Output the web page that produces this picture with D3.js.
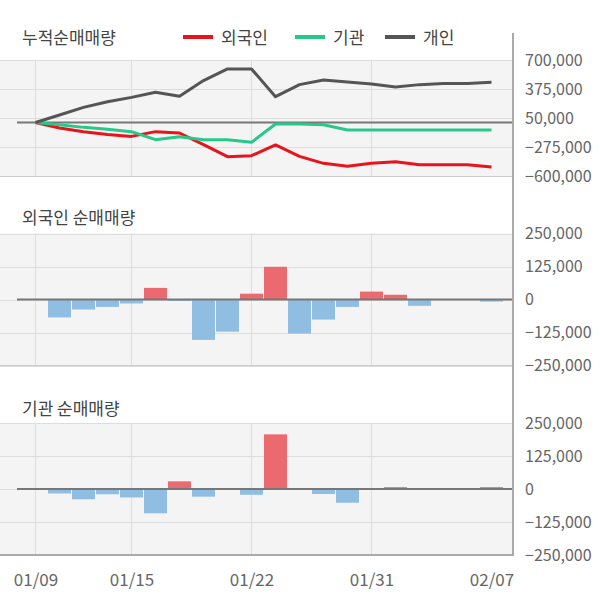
<!DOCTYPE html>
<html><head><meta charset="utf-8">
<script src="https://cdn.jsdelivr.net/npm/d3@7"></script>
<style>
html,body{margin:0;padding:0;background:#fff;}
svg{display:block;font-family:"Noto Sans CJK KR","Noto Sans",sans-serif;}
</style></head>
<body><svg id="c" width="600" height="604"></svg>
<script>
const dates = ["01/09","01/10","01/13","01/14","01/15","01/16","01/17","01/20","01/21","01/22","01/23","01/28","01/29","01/30","01/31","02/03","02/04","02/05","02/06","02/07"];
const tickDates = ["01/09","01/15","01/22","01/31","02/07"];
const gridDates = ["01/09","01/15","01/22","01/31"];
const seriesNames = ["외국인","기관","개인"];
const seriesColors = ["#e8141c","#26c98a","#555555"];
const foreignCum = [0,-62000,-104000,-135000,-156000,-103000,-118000,-249000,-383000,-372000,-252000,-380000,-458000,-492000,-458000,-440000,-473000,-473000,-473000,-499000];
const instCum = [0,-25000,-55000,-77000,-103000,-193000,-159000,-193000,-193000,-223000,-17000,-17000,-25000,-85000,-85000,-85000,-85000,-85000,-85000,-85000];
const indivCum = [0,84000,169000,233000,281000,338000,293000,469000,600000,600000,289000,424000,476000,454000,431000,398000,424000,438000,438000,450000];
const foreignNet = [0,-68000,-38000,-28000,-15000,44000,-5000,-153000,-122000,22000,124000,-129000,-76000,-28000,30000,18000,-24000,0,0,-8000];
const instNet = [0,-17000,-39000,-20000,-32000,-92000,29000,-29000,0,-22000,207000,0,-19000,-52000,0,7000,0,0,0,7000];
const cumTicks = [700000,375000,50000,-275000,-600000];
const netTicks = [250000,125000,0,-125000,-250000];
const titles = ["누적순매매량","외국인 순매매량","기관 순매매량"];

const svg = d3.select("#c");
const plotRight = 513;
const x = d3.scalePoint().domain(dates).range([35.5, 491.5]);
const barW = 23;
const fmt = d3.format(",");

function panel(y0, y1, domain, ticks) {
  const y = d3.scaleLinear().domain(domain).range([y1, y0]);
  const g = svg.append("g");
  g.append("rect").attr("x",0).attr("y",y0).attr("width",plotRight).attr("height",y1-y0).attr("fill","#f4f4f4");
  g.selectAll("line.h").data(ticks).join("line").attr("class","h")
    .attr("x1",0).attr("x2",plotRight).attr("y1",d=>Math.round(y(d))+0.5).attr("y2",d=>Math.round(y(d))+0.5)
    .attr("stroke","#dddddd").attr("stroke-width",1);
  g.selectAll("line.v").data(gridDates).join("line").attr("class","v")
    .attr("x1",d=>x(d)).attr("x2",d=>x(d)).attr("y1",y0).attr("y2",y1)
    .attr("stroke","#dddddd").attr("stroke-width",1);
  const ax = d3.axisRight(y).tickValues(ticks).tickFormat(fmt).tickSize(0).tickPadding(12);
  const a = svg.append("g").attr("transform",`translate(${plotRight},0)`).call(ax);
  a.select(".domain").remove();
  a.selectAll("text").attr("fill","#666").attr("font-size","16px").attr("font-family","'Noto Sans CJK KR',sans-serif");
  return {y, g};
}

// top panel
const p1 = panel(60, 176, [-600000, 700000], cumTicks);
p1.g.append("line").attr("x1",17).attr("x2",plotRight).attr("y1",p1.y(0)).attr("y2",p1.y(0)).attr("stroke","#777").attr("stroke-width",2);
const cumSeries = [foreignCum, instCum, indivCum];
const line = d3.line().x((d,i)=>x(dates[i])).y(d=>p1.y(d));
cumSeries.forEach((s,k)=>{
  p1.g.append("path").datum(s).attr("d",line).attr("fill","none")
    .attr("stroke",seriesColors[k]).attr("stroke-width",3).attr("stroke-linejoin","round");
});

// bars
function barPanel(y0, y1, data) {
  const p = panel(y0, y1, [-250000, 250000], netTicks);
  p.g.selectAll("rect.b").data(data).join("rect").attr("class","b")
    .attr("x",(d,i)=>x(dates[i]) - barW/2).attr("width",barW)
    .attr("y",d=>p.y(Math.max(0,d))).attr("height",d=>Math.abs(p.y(d)-p.y(0)))
    .attr("fill",d=>d>=0?"#ea6a6f":"#8fbee2");
  p.g.append("line").attr("x1",17).attr("x2",plotRight).attr("y1",p.y(0)).attr("y2",p.y(0)).attr("stroke","#777").attr("stroke-width",2);
  return p;
}
barPanel(233.5, 365.5, foreignNet);
barPanel(423, 555, instNet);

// panel borders
svg.append("line").attr("x1",0).attr("x2",plotRight).attr("y1",176.5).attr("y2",176.5).attr("stroke","#cccccc");
svg.append("line").attr("x1",0).attr("x2",plotRight).attr("y1",365.5).attr("y2",365.5).attr("stroke","#cccccc");
svg.append("line").attr("x1",0).attr("x2",plotRight+1).attr("y1",555).attr("y2",555).attr("stroke","#aaaaaa").attr("stroke-width",2);
svg.append("line").attr("x1",plotRight).attr("x2",plotRight).attr("y1",33).attr("y2",556).attr("stroke","#aaaaaa").attr("stroke-width",2);

// x axis labels
const xa = d3.axisBottom(x).tickValues(tickDates).tickSize(0).tickPadding(18);
const xg = svg.append("g").attr("transform","translate(0,556)").call(xa);
xg.select(".domain").remove();
xg.selectAll("text").attr("fill","#666").attr("font-size","17px").attr("font-family","'Noto Sans CJK KR',sans-serif");

// titles
const titleY = [44, 224, 415];
titles.forEach((t,i)=>{
  svg.append("text").attr("x",22).attr("y",titleY[i]).attr("font-size","17px").attr("fill","#444").text(t);
});

// legend
const legX = [183, 295, 385];
seriesNames.forEach((n,i)=>{
  svg.append("line").attr("x1",legX[i]).attr("x2",legX[i]+30).attr("y1",37).attr("y2",37)
    .attr("stroke",seriesColors[i]).attr("stroke-width",4);
  svg.append("text").attr("x",legX[i]+38).attr("y",44).attr("font-size","17px").attr("fill","#444").text(n);
});
</script></body></html>
